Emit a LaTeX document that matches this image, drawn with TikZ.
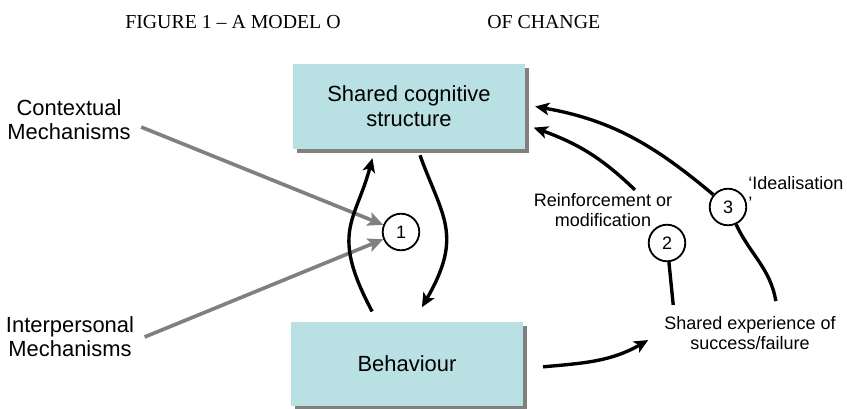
\documentclass[tikz,border=0pt]{standalone}
\usepackage{fontspec}
\setmainfont{Liberation Sans}
\newfontfamily\titlefont{Liberation Serif}
\usetikzlibrary{arrows.meta,shadows}
\definecolor{boxcyan}{RGB}{185,224,227}
\definecolor{arrowgray}{RGB}{128,128,128}

\begin{document}
\begin{tikzpicture}[x=0.025cm, y=-0.025cm,
  box/.style={fill=boxcyan, minimum width=5.8cm, minimum height=2.12cm, align=center,
    font=\fontsize{15.6}{17.7}\selectfont,
    drop shadow={shadow xshift=2.8pt, shadow yshift=-2.8pt, fill=arrowgray, opacity=1}},
  mech/.style={align=center, font=\fontsize{15.6}{17}\selectfont},
  note/.style={align=center, font=\fontsize{12.8}{14.2}\selectfont},
  num/.style={circle, draw, line width=1.3pt, minimum size=26pt, inner sep=0pt, fill=white,
    font=\fontsize{12.8}{14.2}\selectfont},
  link/.style={line width=2.4pt},
  flow/.style={link, -{Stealth[length=10pt,width=9pt,inset=2.5pt]}},
  push/.style={line width=2.6pt, draw=arrowgray, -{Stealth[length=11pt,width=10pt,inset=2.5pt]}}]
\useasboundingbox (0,0) rectangle (847,408);

\node[anchor=west, inner sep=0pt, font=\titlefont\fontsize{14.1}{16}\selectfont] (t1) at (125,22) {FIGURE 1 – A MODEL O};
\node[anchor=west, inner sep=0pt, font=\titlefont\fontsize{14.1}{16}\selectfont] (t2) at (487,22) {OF CHANGE};

\node[box] (scs) at (409,106.5) {Shared cognitive\\structure};
\node[box] (beh) at (407,364) {Behaviour};

\node[mech] (ctx) at (69,120) {Contextual\\Mechanisms};
\node[mech] (ipm) at (70,337) {Interpersonal\\Mechanisms};

\node[num] (c1) at (401,232) {1};
\node[num] (c2) at (667,243) {2};
\node[num] (c3) at (728,207) {3};

\node[note] (rm) at (603,210) {Reinforcement or\\modification};
\node[note] (exp) at (750,333) {Shared experience of\\success/failure};
\node[note, align=left, anchor=north west, inner sep=0pt] (ideal) at (748,176) {‘Idealisation\\’};

\draw[push] ([shift={(4pt,-5pt)}]ctx.east) -- (c1);
\draw[push] ([xshift=4pt]ipm.east) -- (c1);

\draw[flow] ([shift={(-24.8pt,7pt)}]beh.north) to[out=118, in=-105, out looseness=1.5, in looseness=1.1] ([shift={(-26pt,-6.4pt)}]scs.south);
\draw[flow] ([shift={(7.8pt,-4.3pt)}]scs.south) to[out=-70, in=60, out looseness=1.1, in looseness=1.4] ([shift={(10.6pt,10pt)}]beh.north);
\draw[flow] ([shift={(14pt,-2pt)}]beh.east) to[out=5, in=-150] ([shift={(-8pt,-5pt)}]exp.west);

\draw[link] ([shift={(-54.6pt,4.6pt)}]exp.north) -- (c2);
\draw[flow] ([shift={(22.7pt,-1pt)}]rm.north) to[out=136, in=-20] ([shift={(6pt,-15pt)}]scs.east);

\draw[link] ([shift={(18.4pt,7.4pt)}]exp.north) to[out=100, in=-65] (c3);
\draw[flow] (c3) to[out=140, in=-10] ([xshift=7pt]scs.east);
\end{tikzpicture}
\end{document}
